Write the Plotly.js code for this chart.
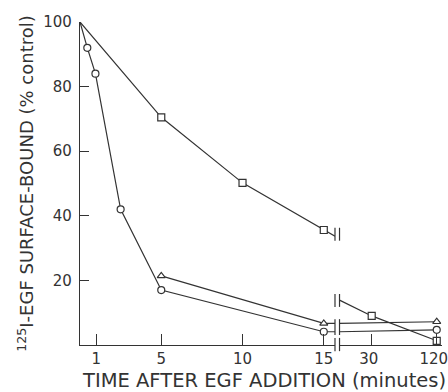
<!DOCTYPE html>
<html>
<head>
<meta charset="utf-8">
<script src="https://cdn.plot.ly/plotly-3.0.1.min.js"></script>
<style>html,body{margin:0;padding:0;background:#fff;}#chart{width:448px;height:392px;}</style>
</head>
<body>
<div id="chart"></div>
<script>
// ---- data ----
const circleTimes    = [0, 0.45, 0.95, 2.5, 5, 15, 120];
const circleValues   = [100, 92, 84, 42, 17.0, 4.1, 4.7];
const triangleTimes  = [5, 15, 120];
const triangleValues = [21.4, 6.7, 7.2];
const squareTimes    = [0, 5, 10, 15, 30, 120];
const squareValues   = [100, 70.5, 50.2, 35.6, 9.0, 1.3];
const squareBreakValues = [33.7, 13.9];   // where the square curve meets the axis break (left, right)
const earlyTicks = [1, 5, 10, 15];
const lateTicks  = [30, 120];
const yTicks     = [20, 40, 60, 80, 100];

// ---- layout constants ----
const ink = '#333';
const font = 'DejaVu Sans, sans-serif';
const range1 = [0, 15.69];
const range2 = [1.179, 2.128];        // log10 range for the part after the break
const dom1 = [0, 0.7044];
const dom2 = [0.7169, 1];
const breakCut = 15;

function split(times, vals, test) {
  const x = [], y = [];
  times.forEach((t, i) => { if (test(t)) { x.push(t); y.push(vals[i]); } });
  return {x, y};
}
const lineStyle = {color: ink, width: 1.2};
function mk(symbol, size) {
  return {symbol: symbol, size: size, color: '#fff', line: {color: ink, width: 1.2}};
}

const traces = [];
function addSeries(times, vals, symbol, size) {
  traces.push({x: times, y: vals, xaxis: 'x', yaxis: 'y', mode: 'lines', line: lineStyle, hoverinfo: 'skip'});
  const pos = split(times, vals, t => t > 0);
  traces.push({x: pos.x, y: pos.y, xaxis: 'x2', yaxis: 'y', mode: 'lines', line: lineStyle, hoverinfo: 'skip'});
  const e = split(times, vals, t => t > 0 && t <= breakCut);
  traces.push({x: e.x, y: e.y, xaxis: 'x', yaxis: 'y', mode: 'markers', marker: mk(symbol, size)});
  const l = split(times, vals, t => t > breakCut);
  traces.push({x: l.x, y: l.y, xaxis: 'x2', yaxis: 'y', mode: 'markers', marker: mk(symbol, size)});
}
addSeries(circleTimes, circleValues, 'circle', 7);
addSeries(triangleTimes, triangleValues, 'triangle-up', 7);

// squares: curve is interrupted at the break
const sqE = split(squareTimes, squareValues, t => t <= breakCut);
const sqL = split(squareTimes, squareValues, t => t > breakCut);
traces.push({x: sqE.x.concat([range1[1]]), y: sqE.y.concat([squareBreakValues[0]]),
  xaxis: 'x', yaxis: 'y', mode: 'lines', line: lineStyle});
traces.push({x: [Math.pow(10, range2[0])].concat(sqL.x), y: [squareBreakValues[1]].concat(sqL.y),
  xaxis: 'x2', yaxis: 'y', mode: 'lines', line: lineStyle});
const sqEm = split(squareTimes, squareValues, t => t > 0 && t <= breakCut);
traces.push({x: sqEm.x, y: sqEm.y, xaxis: 'x', yaxis: 'y', mode: 'markers', marker: mk('square', 7)});
traces.push({x: sqL.x, y: sqL.y, xaxis: 'x2', yaxis: 'y', mode: 'markers', marker: mk('square', 7)});

// break marks "||"
const bx = [dom1[1], dom2[0]];
const shapes = [];
function breakMark(y0, y1, yref) {
  bx.forEach(x => shapes.push({type: 'line', xref: 'paper', yref: yref, x0: x, x1: x, y0: y0, y1: y1,
    line: {color: ink, width: 1.2}}));
}
breakMark(36.3, 32.3, 'y');
breakMark(15.8, 11.8, 'y');
breakMark(8.0, 3.1, 'y');
breakMark(0.022, -0.019, 'paper');

const axisCommon = {
  showline: true, linecolor: ink, linewidth: 1.2, showgrid: false, zeroline: false,
  ticks: 'inside', tickcolor: ink, tickwidth: 1.2, ticklen: 11,
  tickfont: {family: font, size: 15, color: ink}, fixedrange: true
};

const layout = {
  width: 448, height: 392,
  margin: {l: 80, r: 6, t: 22, b: 47},
  paper_bgcolor: '#fff', plot_bgcolor: '#fff',
  showlegend: false,
  xaxis: Object.assign({}, axisCommon, {domain: dom1, range: range1, anchor: 'y',
    tickmode: 'array', tickvals: earlyTicks, ticktext: earlyTicks.map(String)}),
  xaxis2: Object.assign({}, axisCommon, {domain: dom2, type: 'log', range: range2, anchor: 'y',
    tickmode: 'array', tickvals: lateTicks, ticktext: lateTicks.map(String),
    ticklabeloverflow: 'allow', ticklabelshift: -3}),
  yaxis: Object.assign({}, axisCommon, {range: [0, 100], anchor: 'x', ticklen: 9,
    ticklabelstandoff: 4,
    tickmode: 'array', tickvals: yTicks, ticktext: yTicks.map(String),
    title: {text: '<sup>125</sup>I-EGF SURFACE-BOUND (% control)', font: {family: font, size: 18, color: ink}, standoff: 4}}),
  shapes: shapes,
  annotations: [{
    text: 'TIME AFTER EGF ADDITION (minutes)', xref: 'paper', yref: 'paper',
    x: 0.507, y: -0.111, xanchor: 'center', yanchor: 'middle', showarrow: false,
    font: {family: font, size: 19.5, color: ink}
  }]
};

Plotly.newPlot('chart', traces, layout, {staticPlot: true, displayModeBar: false});
</script>
</body>
</html>
